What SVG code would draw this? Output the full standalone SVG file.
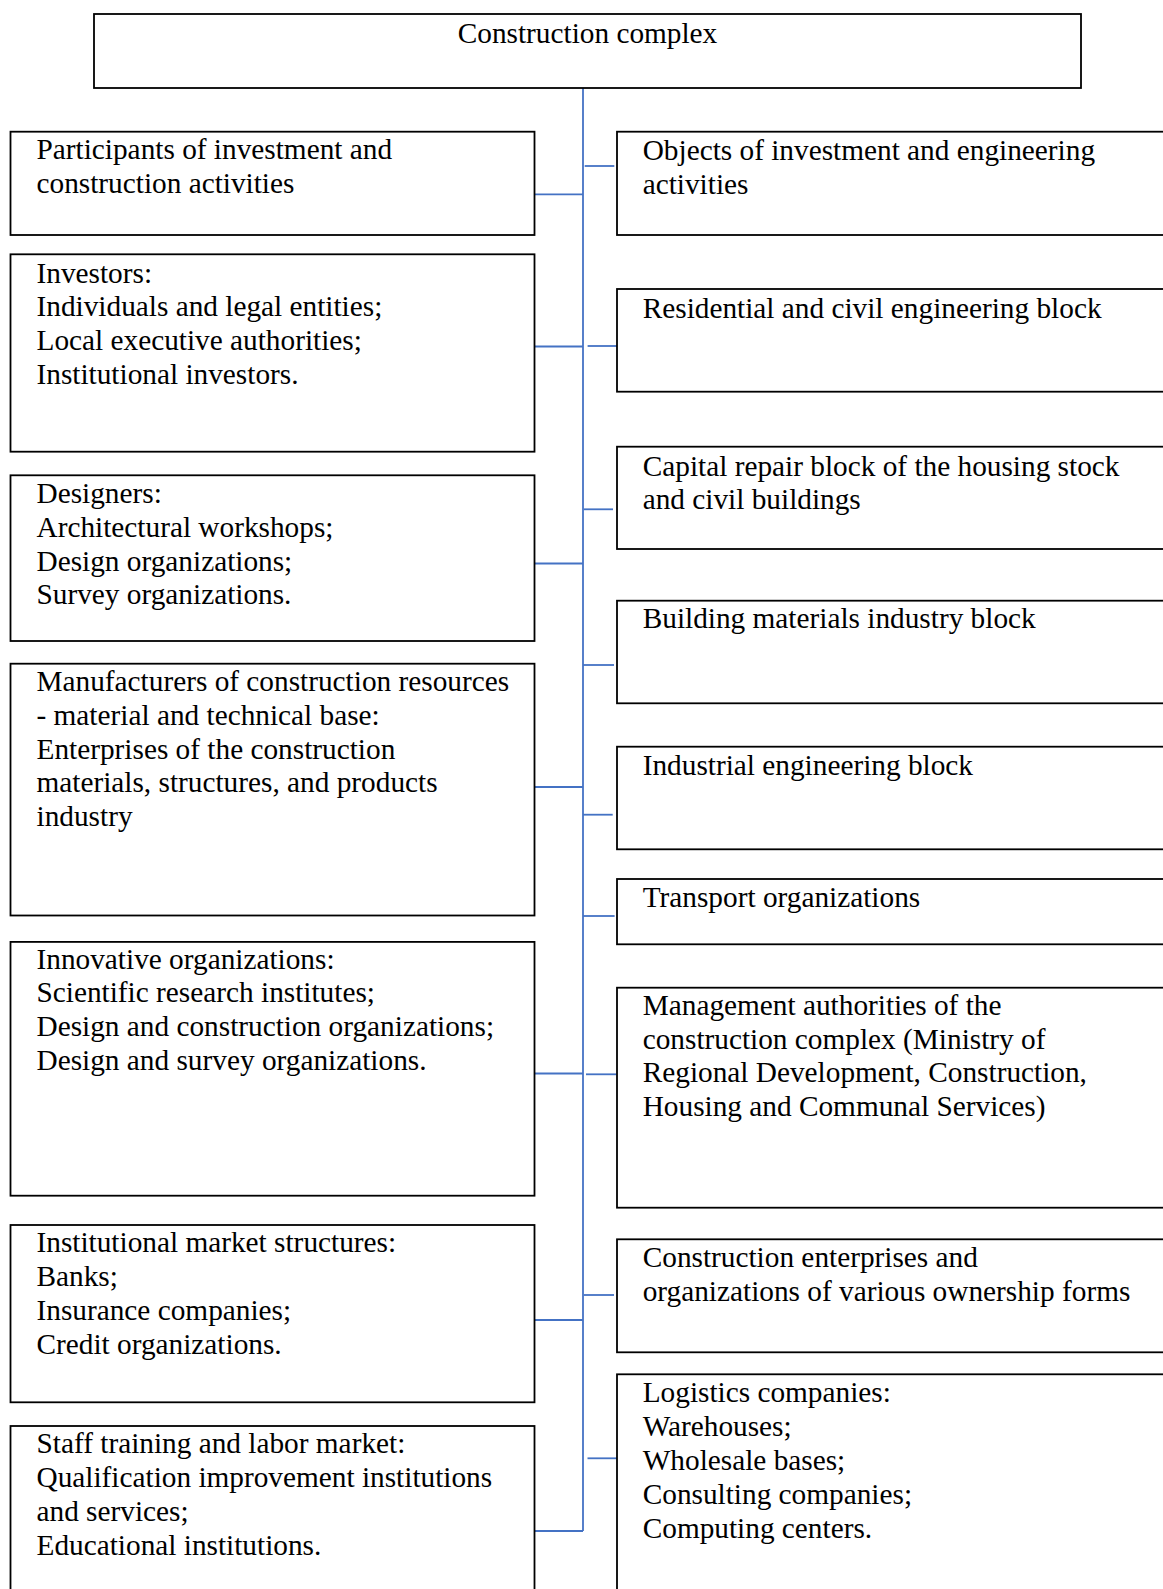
<svg xmlns="http://www.w3.org/2000/svg" width="1163" height="1589" viewBox="0 0 1163 1589">
<style>
  .box { fill: #ffffff; stroke: #000000; stroke-width: 1.8; }
  .t { font-family: "Liberation Serif", "Times New Roman", serif; font-size: 29.3px; fill: #000000; }
  .c { stroke: #4472C4; stroke-width: 1.8; fill: none; }
</style>
<rect x="0" y="0" width="1163" height="1589" fill="#ffffff"/>

<g id="connectors">
  <line class="c" x1="583" y1="88" x2="583" y2="1531"/>
  <line class="c" x1="534.5" y1="194.3" x2="583" y2="194.3"/>
  <line class="c" x1="534.5" y1="346.5" x2="583" y2="346.5"/>
  <line class="c" x1="534.5" y1="563.5" x2="583" y2="563.5"/>
  <line class="c" x1="534.5" y1="787" x2="583" y2="787"/>
  <line class="c" x1="534.5" y1="1073.5" x2="583" y2="1073.5"/>
  <line class="c" x1="534.5" y1="1320" x2="583" y2="1320"/>
  <line class="c" x1="534.5" y1="1531" x2="583" y2="1531"/>
  <line class="c" x1="584.7" y1="166" x2="614.3" y2="166"/>
  <line class="c" x1="587.6" y1="346" x2="617" y2="346"/>
  <line class="c" x1="583.7" y1="509.3" x2="613" y2="509.3"/>
  <line class="c" x1="583" y1="665" x2="614" y2="665"/>
  <line class="c" x1="583" y1="814.7" x2="612.7" y2="814.7"/>
  <line class="c" x1="583" y1="916" x2="614.6" y2="916"/>
  <line class="c" x1="586" y1="1074.3" x2="616.5" y2="1074.3"/>
  <line class="c" x1="583.7" y1="1295" x2="614" y2="1295"/>
  <line class="c" x1="587.5" y1="1458.3" x2="617" y2="1458.3"/>
</g>

<g id="n-root">
  <rect class="box" x="94" y="14" width="987" height="74"/>
  <text class="t" x="587.5" y="42.7" text-anchor="middle">Construction complex</text>
</g>

<g id="n-participants">
  <rect class="box" x="10.5" y="131.7" width="524" height="103.3"/>
  <text class="t" x="36.5" y="159.3">Participants of investment and</text>
  <text class="t" x="36.5" y="193">construction activities</text>
</g>

<g id="n-investors">
  <rect class="box" x="10.5" y="254.3" width="524" height="197.4"/>
  <text class="t" x="36.5" y="282.7">Investors:</text>
  <text class="t" x="36.5" y="316.4">Individuals and legal entities;</text>
  <text class="t" x="36.5" y="350.1">Local executive authorities;</text>
  <text class="t" x="36.5" y="383.8">Institutional investors.</text>
</g>

<g id="n-designers">
  <rect class="box" x="10.5" y="475.3" width="524" height="165.7"/>
  <text class="t" x="36.5" y="503.3">Designers:</text>
  <text class="t" x="36.5" y="537">Architectural workshops;</text>
  <text class="t" x="36.5" y="570.7">Design organizations;</text>
  <text class="t" x="36.5" y="604.4">Survey organizations.</text>
</g>

<g id="n-manufacturers">
  <rect class="box" x="10.5" y="663.7" width="524" height="251.8"/>
  <text class="t" x="36.5" y="691.2">Manufacturers of construction resources</text>
  <text class="t" x="36.5" y="724.9">- material and technical base:</text>
  <text class="t" x="36.5" y="758.6">Enterprises of the construction</text>
  <text class="t" x="36.5" y="792.3">materials, structures, and products</text>
  <text class="t" x="36.5" y="826">industry</text>
</g>

<g id="n-innovative">
  <rect class="box" x="10.5" y="941.9" width="524" height="253.8"/>
  <text class="t" x="36.5" y="968.7">Innovative organizations:</text>
  <text class="t" x="36.5" y="1002.4">Scientific research institutes;</text>
  <text class="t" x="36.5" y="1036.1">Design and construction organizations;</text>
  <text class="t" x="36.5" y="1069.8">Design and survey organizations.</text>
</g>

<g id="n-institutional">
  <rect class="box" x="10.5" y="1225" width="524" height="177.3"/>
  <text class="t" x="36.5" y="1252">Institutional market structures:</text>
  <text class="t" x="36.5" y="1286">Banks;</text>
  <text class="t" x="36.5" y="1320">Insurance companies;</text>
  <text class="t" x="36.5" y="1353.5">Credit organizations.</text>
</g>

<g id="n-staff">
  <rect class="box" x="10.5" y="1426" width="524" height="200"/>
  <text class="t" x="36.5" y="1453.3">Staff training and labor market:</text>
  <text class="t" x="36.5" y="1487.3">Qualification improvement institutions</text>
  <text class="t" x="36.5" y="1521">and services;</text>
  <text class="t" x="36.5" y="1555">Educational institutions.</text>
</g>

<g id="n-objects">
  <rect class="box" x="617" y="131.7" width="570" height="103.3"/>
  <text class="t" x="642.7" y="160">Objects of investment and engineering</text>
  <text class="t" x="642.7" y="193.7">activities</text>
</g>

<g id="n-residential">
  <rect class="box" x="617" y="289" width="570" height="102.7"/>
  <text class="t" x="642.7" y="318.3">Residential and civil engineering block</text>
</g>

<g id="n-capital">
  <rect class="box" x="617" y="446.7" width="570" height="102.3"/>
  <text class="t" x="642.7" y="475.7">Capital repair block of the housing stock</text>
  <text class="t" x="642.7" y="509.4">and civil buildings</text>
</g>

<g id="n-building">
  <rect class="box" x="617" y="600.7" width="570" height="102.6"/>
  <text class="t" x="642.7" y="628.3">Building materials industry block</text>
</g>

<g id="n-industrial">
  <rect class="box" x="617" y="746.7" width="570" height="102.6"/>
  <text class="t" x="642.7" y="775">Industrial engineering block</text>
</g>

<g id="n-transport">
  <rect class="box" x="617" y="879" width="570" height="65.3"/>
  <text class="t" x="642.7" y="907.3">Transport organizations</text>
</g>

<g id="n-management">
  <rect class="box" x="617" y="987.7" width="570" height="220"/>
  <text class="t" x="642.7" y="1015">Management authorities of the</text>
  <text class="t" x="642.7" y="1048.7">construction complex (Ministry of</text>
  <text class="t" x="642.7" y="1082.4">Regional Development, Construction,</text>
  <text class="t" x="642.7" y="1116.1">Housing and Communal Services)</text>
</g>

<g id="n-enterprises">
  <rect class="box" x="617" y="1239.3" width="570" height="113"/>
  <text class="t" x="642.7" y="1267.3">Construction enterprises and</text>
  <text class="t" x="642.7" y="1301">organizations of various ownership forms</text>
</g>

<g id="n-logistics">
  <rect class="box" x="617" y="1374.3" width="570" height="260"/>
  <text class="t" x="642.7" y="1401.7">Logistics companies:</text>
  <text class="t" x="642.7" y="1435.7">Warehouses;</text>
  <text class="t" x="642.7" y="1470">Wholesale bases;</text>
  <text class="t" x="642.7" y="1504">Consulting companies;</text>
  <text class="t" x="642.7" y="1538.3">Computing centers.</text>
</g>
</svg>
